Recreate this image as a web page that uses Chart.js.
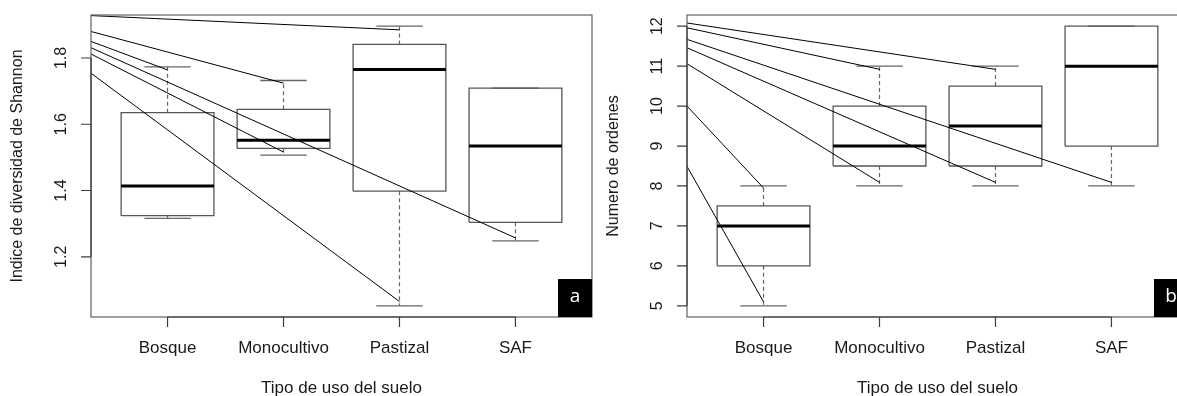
<!DOCTYPE html>
<html>
<head>
<meta charset="utf-8">
<script src="https://cdn.jsdelivr.net/npm/chart.js@4.4.1/dist/chart.umd.min.js"></script>
<style>
	html, body { margin: 0; padding: 0; background: #fff; overflow: hidden; }
	canvas { position: absolute; top: 0; }
	#chartA { left: 0; }
	#chartB { left: 600px; }
</style>
</head>
<body>
<canvas id="chartA" width="600" height="396"></canvas>
<canvas id="chartB" width="600" height="396"></canvas>
<script>
const categories = ['Bosque', 'Monocultivo', 'Pastizal', 'SAF'];

// panel a: Shannon index per land use (whisker ends, quartiles, median)
const shannonLow = [1.316, 1.507, 1.052, 1.248];
const shannonQ1 = [1.324, 1.527, 1.398, 1.304];
const shannonMed = [1.414, 1.552, 1.765, 1.534];
const shannonQ3 = [1.635, 1.645, 1.841, 1.709];
const shannonHigh = [1.773, 1.732, 1.896, 1.709];
const shannonTicks = [1.2, 1.4, 1.6, 1.8];

// leader lines: value at the left edge -> category and value where they stop
const shannonLinkFrom = [1.928, 1.880, 1.850, 1.831, 1.812, 1.754];
const shannonLinkTo = [3, 2, 1, 4, 2, 3];
const shannonLinkEnd = [1.885, 1.724, 1.764, 1.257, 1.516, 1.065];

// panel b: number of orders
const ordenesLow = [5, 8, 8, 8];
const ordenesQ1 = [6, 8.5, 8.5, 9];
const ordenesMed = [7, 9, 9.5, 11];
const ordenesQ3 = [7.5, 10, 10.5, 12];
const ordenesHigh = [8, 11, 11, 12];
const ordenesTicks = [5, 6, 7, 8, 9, 10, 11, 12];

const ordenesLinkFrom = [12.08, 11.96, 11.67, 11.46, 11.06, 10.0, 8.49];
const ordenesLinkTo = [3, 2, 4, 3, 2, 1, 1];
const ordenesLinkEnd = [10.92, 10.92, 8.09, 8.09, 8.09, 7.95, 5.1];

const BOX_HALF = 0.4;
const CAP_HALF = 0.2;
const X_MIN = 0.5 - 0.04 * categories.length;
const X_MAX = categories.length + 0.5 + 0.04 * categories.length;
const FONT = '"Liberation Sans", Arial, Helvetica, sans-serif';

let seg = function (pts, color, width, dash, order) {
	return {
		data: pts.map(p => ({ x: p[0], y: p[1] })),
		showLine: true,
		borderColor: color,
		borderWidth: width,
		borderDash: dash || [],
		pointRadius: 0,
		fill: false,
		tension: 0,
		order: order
	};
};

let buildDatasets = function (low, q1, med, q3, high, from, to, end) {
	let sets = [];
	categories.forEach((c, k) => {
		let i = k + 1;
		sets.push(seg([[i - BOX_HALF, q1[k]], [i + BOX_HALF, q1[k]], [i + BOX_HALF, q3[k]], [i - BOX_HALF, q3[k]], [i - BOX_HALF, q1[k]]], '#555', 1.3, null, 2));
		sets.push(seg([[i - BOX_HALF, med[k]], [i + BOX_HALF, med[k]]], '#000', 3, null, 1));
		if (high[k] > q3[k]) sets.push(seg([[i, q3[k]], [i, high[k]]], '#666', 1.2, [4, 3], 2));
		if (low[k] < q1[k]) sets.push(seg([[i, q1[k]], [i, low[k]]], '#666', 1.2, [4, 3], 2));
		sets.push(seg([[i - CAP_HALF, high[k]], [i + CAP_HALF, high[k]]], '#666', 1.3, null, 2));
		sets.push(seg([[i - CAP_HALF, low[k]], [i + CAP_HALF, low[k]]], '#666', 1.3, null, 2));
	});
	from.forEach((v, k) => {
		sets.push(seg([[X_MIN, v], [to[k], end[k]]], '#000', 1, null, 0));
	});
	return sets;
};

let paddedRange = function (low, high) {
	let lo = Math.min(...low), hi = Math.max(...high);
	let d = (hi - lo) * 0.04;
	return [lo - d, hi + d];
};

// frame, ticks, rotated tick labels and titles in the base-graphics style
const rAxes = {
	id: 'rAxes',
	afterDraw(chart, args, opts) {
		const ctx = chart.ctx, a = chart.chartArea, x = chart.scales.x, y = chart.scales.y;
		ctx.save();
		ctx.strokeStyle = '#606060';
		ctx.lineWidth = 1.2;
		ctx.strokeRect(a.left, a.top, a.right - a.left, a.bottom - a.top);

		ctx.strokeStyle = '#3c3c3c';
		ctx.beginPath();
		ctx.moveTo(x.getPixelForValue(1), a.bottom);
		ctx.lineTo(x.getPixelForValue(categories.length), a.bottom);
		categories.forEach((c, k) => {
			let px = x.getPixelForValue(k + 1);
			ctx.moveTo(px, a.bottom);
			ctx.lineTo(px, a.bottom + 10);
		});
		ctx.moveTo(a.left, y.getPixelForValue(opts.ticks[0]));
		ctx.lineTo(a.left, y.getPixelForValue(opts.ticks[opts.ticks.length - 1]));
		opts.ticks.forEach(t => {
			let py = y.getPixelForValue(t);
			ctx.moveTo(a.left - 10, py);
			ctx.lineTo(a.left, py);
		});
		ctx.stroke();

		ctx.fillStyle = '#1a1a1a';
		ctx.textAlign = 'center';
		ctx.textBaseline = 'middle';
		ctx.font = '17px ' + FONT;
		categories.forEach((c, k) => ctx.fillText(c, x.getPixelForValue(k + 1), a.bottom + 31));
		ctx.fillText('Tipo de uso del suelo', (a.left + a.right) / 2, a.bottom + 71);

		ctx.font = '16px ' + FONT;
		opts.ticks.forEach(t => {
			ctx.save();
			ctx.translate(a.left - 29, y.getPixelForValue(t));
			ctx.rotate(-Math.PI / 2);
			ctx.fillText(String(t), 0, 0);
			ctx.restore();
		});
		ctx.save();
		ctx.translate(a.left - 73, (a.top + a.bottom) / 2);
		ctx.rotate(-Math.PI / 2);
		ctx.fillText(opts.title, 0, 0);
		ctx.restore();

		ctx.fillStyle = '#000';
		ctx.fillRect(a.right - 34, a.bottom - 38, 34, 38);
		ctx.fillStyle = '#fff';
		ctx.font = '19px "Open Sans", sans-serif';
		ctx.fillText(opts.letter, a.right - 17, a.bottom - 20);
		ctx.restore();
	}
};

let makeChart = function (id, datasets, yRange, ticks, title, letter, padding) {
	return new Chart(id, {
		type: 'scatter',
		data: { datasets: datasets },
		options: {
			responsive: false,
			animation: false,
			events: [],
			layout: { padding: padding },
			scales: {
				x: { type: 'linear', display: false, min: X_MIN, max: X_MAX },
				y: { type: 'linear', display: false, min: yRange[0], max: yRange[1] }
			},
			plugins: {
				legend: { display: false },
				tooltip: { enabled: false },
				rAxes: { ticks: ticks, title: title, letter: letter }
			}
		},
		plugins: [rAxes]
	});
};

makeChart('chartA',
	buildDatasets(shannonLow, shannonQ1, shannonMed, shannonQ3, shannonHigh, shannonLinkFrom, shannonLinkTo, shannonLinkEnd),
	paddedRange(shannonLow, shannonHigh), shannonTicks,
	'Indice de diversidad de Shannon', 'a',
	{ left: 91, top: 15, right: 8, bottom: 79 });

makeChart('chartB',
	buildDatasets(ordenesLow, ordenesQ1, ordenesMed, ordenesQ3, ordenesHigh, ordenesLinkFrom, ordenesLinkTo, ordenesLinkEnd),
	paddedRange(ordenesLow, ordenesHigh), ordenesTicks,
	'Numero de ordenes', 'b',
	{ left: 87, top: 15, right: 12, bottom: 79 });
</script>
</body>
</html>
